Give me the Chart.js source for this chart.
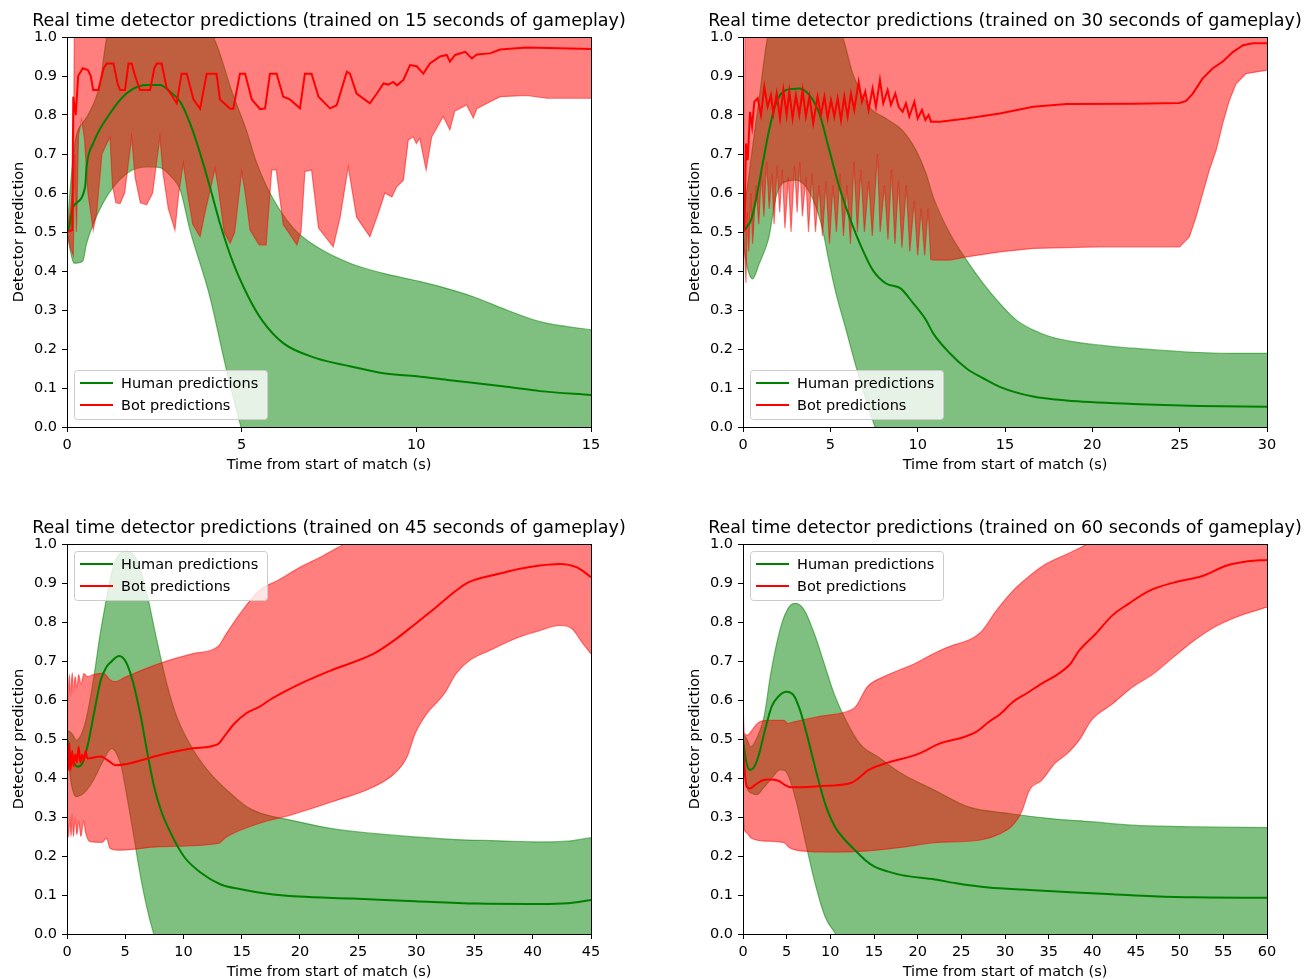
<!DOCTYPE html>
<html><head><meta charset="utf-8">
<script src="https://cdn.jsdelivr.net/npm/chart.js@4.4.1/dist/chart.umd.min.js"></script>
<style>
html,body{margin:0;padding:0;background:#fff;width:1304px;height:979px;overflow:hidden}
canvas{position:absolute;left:0;top:0}
</style></head><body>
<canvas id="c1" width="1304" height="979"></canvas>
<canvas id="c2" width="1304" height="979"></canvas>
<canvas id="c3" width="1304" height="979"></canvas>
<canvas id="c4" width="1304" height="979"></canvas>
<script>
// ---------- DATA : [time (s), detector prediction] ----------
const yTicks = [0,0.1,0.2,0.3,0.4,0.5,0.6,0.7,0.8,0.9,1.0];
const legendLabels = ['Human predictions','Bot predictions'];
const titles = [
 'Real time detector predictions (trained on 15 seconds of gameplay)',
 'Real time detector predictions (trained on 30 seconds of gameplay)',
 'Real time detector predictions (trained on 45 seconds of gameplay)',
 'Real time detector predictions (trained on 60 seconds of gameplay)'];
const xMaxes = [15,30,45,60];

// Panel 1 (15 s)
const p1HumanMean = [[0,0.50],[0.04,0.505],[0.18,0.565],[0.52,0.616],[0.56,0.667],[0.75,0.727],[1.23,0.804],[1.71,0.856],[2.28,0.877],[2.66,0.877],[2.95,0.86],[3.24,0.834],[3.52,0.779],[3.81,0.702],[4.09,0.616],[4.38,0.522],[4.76,0.42],[5.19,0.334],[5.58,0.274],[6.19,0.215],[7.15,0.176],[8.1,0.156],[9.06,0.138],[10.01,0.13],[10.96,0.12],[12.59,0.103],[13.54,0.092],[15,0.082]];
const p1HumanUpper = [[0,0.5],[0.1,0.62],[0.25,0.74],[0.45,0.78],[0.6,0.8],[0.94,0.88],[1.14,1.0],[1.6,1.08],[2.5,1.1],[3.4,1.07],[4.19,1.0],[4.76,0.85],[5.14,0.76],[5.4,0.685],[5.81,0.6],[6.48,0.51],[7.15,0.462],[8.1,0.42],[9.06,0.394],[10.01,0.375],[10.68,0.36],[11.63,0.334],[12.59,0.30],[13.54,0.27],[15,0.249]];
const p1HumanLower = [[0,0.5],[0.1,0.45],[0.2,0.42],[0.45,0.425],[0.56,0.47],[1.03,0.574],[1.71,0.65],[2.28,0.667],[2.66,0.665],[3.0,0.64],[3.24,0.608],[3.52,0.505],[4.09,0.334],[4.52,0.164],[4.95,0.01],[5.5,-0.15],[7,-0.12],[10,-0.1],[15,-0.09]];
const p1BotMean = [[0,0.5],[0.15,0.505],[0.18,0.847],[0.25,0.80],[0.32,0.9],[0.45,0.92],[0.6,0.915],[0.68,0.9],[0.75,0.864],[0.9,0.864],[1.05,0.92],[1.14,0.932],[1.33,0.932],[1.45,0.88],[1.52,0.864],[1.66,0.864],[1.76,0.932],[1.85,0.932],[1.95,0.9],[2.09,0.864],[2.38,0.864],[2.5,0.92],[2.57,0.932],[2.71,0.932],[2.85,0.87],[3.0,0.85],[3.14,0.83],[3.28,0.906],[3.43,0.906],[3.62,0.84],[3.81,0.816],[4.0,0.906],[4.28,0.906],[4.38,0.84],[4.67,0.816],[4.76,0.816],[4.95,0.906],[5.1,0.906],[5.29,0.84],[5.53,0.815],[5.67,0.817],[5.81,0.906],[6.0,0.906],[6.19,0.847],[6.38,0.84],[6.67,0.817],[6.81,0.906],[7.0,0.906],[7.2,0.847],[7.53,0.817],[7.72,0.825],[8.01,0.911],[8.1,0.906],[8.29,0.855],[8.67,0.83],[8.87,0.855],[9.06,0.881],[9.2,0.878],[9.34,0.885],[9.45,0.876],[9.63,0.89],[9.82,0.928],[10.01,0.925],[10.2,0.906],[10.39,0.932],[10.68,0.95],[10.87,0.954],[10.96,0.937],[11.11,0.954],[11.4,0.962],[11.59,0.945],[11.73,0.955],[12.11,0.958],[12.4,0.968],[13.16,0.973],[15,0.969]];
const p1BotUpper = [[0,0.5],[0.1,0.56],[0.18,0.62],[0.22,1.15],[5,1.2],[10,1.15],[15,1.1]];
const p1BotLower = [[0,0.5],[0.1,0.46],[0.18,0.44],[0.22,0.7],[0.27,0.5],[0.33,0.75],[0.42,0.787],[0.5,0.74],[0.6,0.6],[0.75,0.505],[0.85,0.55],[1.0,0.7],[1.23,0.744],[1.3,0.62],[1.4,0.575],[1.52,0.573],[1.65,0.6],[1.85,0.744],[1.95,0.64],[2.1,0.575],[2.28,0.57],[2.45,0.6],[2.66,0.744],[2.75,0.65],[2.9,0.56],[3.09,0.505],[3.2,0.6],[3.33,0.676],[3.45,0.6],[3.6,0.52],[3.81,0.488],[3.95,0.55],[4.24,0.663],[4.35,0.6],[4.5,0.5],[4.67,0.471],[4.8,0.5],[5.0,0.655],[5.1,0.6],[5.24,0.505],[5.5,0.467],[5.7,0.467],[5.86,0.659],[5.99,0.659],[6.19,0.519],[6.58,0.467],[6.7,0.5],[6.81,0.655],[7.0,0.659],[7.2,0.51],[7.62,0.462],[7.82,0.538],[8.05,0.667],[8.29,0.538],[8.67,0.488],[8.91,0.548],[9.1,0.6],[9.3,0.59],[9.44,0.616],[9.63,0.633],[9.77,0.736],[9.91,0.744],[10.0,0.727],[10.1,0.74],[10.28,0.659],[10.44,0.744],[10.77,0.796],[10.96,0.762],[11.1,0.81],[11.44,0.826],[11.63,0.792],[11.73,0.816],[12.11,0.834],[12.4,0.847],[13.16,0.85],[13.73,0.843],[15,0.843]];

// Panel 2 (30 s)
const p2HumanMean = [[0,0.5],[0.08,0.505],[0.46,0.531],[0.74,0.582],[1.13,0.676],[1.5,0.762],[1.89,0.83],[2.46,0.864],[3.22,0.868],[3.8,0.851],[4.37,0.804],[4.94,0.71],[5.51,0.616],[6.09,0.539],[6.85,0.454],[7.42,0.403],[8.19,0.368],[9.0,0.356],[9.75,0.317],[10.48,0.274],[10.89,0.24],[11.84,0.189],[12.8,0.15],[13.75,0.125],[14.7,0.103],[16.61,0.078],[18.52,0.068],[22.33,0.059],[26.14,0.054],[30,0.052]];
const p2HumanUpper = [[0,0.5],[0.15,0.58],[0.33,0.642],[0.55,0.719],[0.94,0.847],[1.41,1.0],[2.5,1.1],[3.5,1.1],[4.8,1.05],[5.7,1.0],[6.28,0.907],[7.23,0.821],[8.19,0.791],[9.14,0.76],[9.9,0.71],[10.48,0.65],[10.89,0.59],[11.84,0.497],[12.8,0.428],[13.75,0.368],[14.7,0.317],[15.66,0.274],[16.61,0.249],[17.56,0.232],[19.47,0.215],[22.33,0.202],[25.2,0.193],[28.06,0.189],[30,0.189]];
const p2HumanLower = [[0,0.5],[0.1,0.45],[0.3,0.4],[0.55,0.38],[0.94,0.42],[1.32,0.462],[1.5,0.49],[1.89,0.59],[2.27,0.625],[3.03,0.633],[3.6,0.616],[4.18,0.564],[4.56,0.505],[4.94,0.42],[5.32,0.343],[5.9,0.249],[6.47,0.155],[7.04,0.07],[7.42,0.018],[8,-0.05],[12,-0.15],[20,-0.07],[30,-0.09]];
const p2BotMean = [[0,0.5],[0.08,0.505],[0.17,0.727],[0.27,0.684],[0.4,0.808],[0.52,0.77],[0.65,0.834],[0.84,0.843],[1.03,0.8],[1.22,0.872],[1.41,0.821],[1.6,0.851],[1.74,0.804],[1.93,0.855],[2.12,0.791],[2.31,0.864],[2.5,0.8],[2.65,0.86],[2.84,0.791],[3.03,0.851],[3.22,0.8],[3.41,0.864],[3.6,0.796],[3.8,0.847],[4.02,0.779],[4.27,0.847],[4.46,0.8],[4.66,0.847],[4.85,0.791],[5.04,0.838],[5.23,0.796],[5.42,0.843],[5.61,0.787],[5.8,0.847],[5.99,0.796],[6.18,0.855],[6.37,0.813],[6.62,0.885],[6.81,0.834],[7.0,0.86],[7.19,0.813],[7.42,0.868],[7.61,0.821],[7.84,0.89],[8.03,0.83],[8.28,0.864],[8.47,0.826],[8.72,0.855],[8.91,0.821],[9.14,0.808],[9.33,0.83],[9.52,0.796],[9.81,0.834],[10.0,0.791],[10.25,0.813],[10.44,0.787],[10.63,0.8],[10.76,0.783],[11.27,0.783],[12.8,0.791],[14.7,0.804],[16.61,0.821],[18.52,0.828],[22.33,0.829],[25.0,0.831],[25.37,0.836],[25.75,0.855],[26.32,0.894],[26.9,0.92],[27.47,0.937],[28.06,0.962],[28.63,0.979],[29.2,0.984],[30,0.984]];
const p2BotUpper = [[0,0.53],[0.08,0.7],[0.12,1.1],[10,1.2],[20,1.2],[30,1.05]];
const p2BotLower = [[0,0.47],[0.1,0.44],[0.17,0.37],[0.25,0.55],[0.33,0.45],[0.45,0.6],[0.55,0.47],[0.75,0.62],[0.9,0.52],[1.05,0.65],[1.2,0.54],[1.35,0.68],[1.5,0.56],[1.65,0.65],[1.78,0.52],[1.95,0.67],[2.1,0.55],[2.25,0.66],[2.4,0.51],[2.6,0.64],[2.75,0.5],[2.95,0.67],[3.1,0.55],[3.25,0.68],[3.4,0.54],[3.6,0.64],[3.75,0.5],[3.95,0.65],[4.15,0.5],[4.35,0.62],[4.55,0.49],[4.75,0.63],[4.95,0.47],[5.15,0.62],[5.35,0.5],[5.55,0.65],[5.75,0.49],[5.95,0.62],[6.15,0.47],[6.35,0.68],[6.55,0.5],[6.75,0.66],[6.95,0.5],[7.2,0.63],[7.4,0.49],[7.7,0.7],[7.85,0.5],[8.1,0.62],[8.3,0.48],[8.5,0.66],[8.7,0.47],[8.9,0.63],[9.1,0.46],[9.35,0.62],[9.55,0.45],[9.8,0.58],[10.0,0.44],[10.2,0.56],[10.4,0.44],[10.6,0.56],[10.75,0.43],[10.89,0.428],[11.84,0.428],[12.8,0.436],[14.7,0.449],[16.61,0.458],[20.43,0.462],[25,0.462],[25.56,0.488],[25.94,0.539],[26.32,0.599],[26.7,0.659],[27.09,0.71],[27.47,0.779],[27.85,0.838],[28.23,0.88],[28.8,0.906],[30,0.915]];

// Panel 3 (45 s)
const p3HumanMean = [[0,0.5],[0.04,0.497],[0.3,0.455],[0.6,0.438],[0.89,0.429],[1.32,0.438],[1.75,0.48],[2.32,0.566],[2.9,0.651],[3.4,0.685],[3.76,0.697],[4.47,0.713],[5.05,0.698],[5.62,0.651],[6.34,0.557],[6.91,0.463],[7.48,0.378],[8.06,0.318],[8.92,0.258],[10.06,0.198],[11.5,0.157],[13.21,0.127],[14.93,0.115],[17.07,0.104],[19.92,0.096],[24.5,0.091],[29.9,0.084],[35.2,0.078],[40.6,0.077],[43,0.079],[45,0.087]];
const p3HumanUpper = [[0,0.523],[0.4,0.515],[0.83,0.497],[1.2,0.51],[1.69,0.557],[2.35,0.668],[2.8,0.76],[3.26,0.839],[3.83,0.925],[4.55,0.976],[5.13,0.981],[5.99,0.959],[6.85,0.874],[7.71,0.754],[8.57,0.642],[9.43,0.557],[10.86,0.471],[12.3,0.412],[13.73,0.369],[15.45,0.326],[16.6,0.31],[19.2,0.292],[22.8,0.27],[26.3,0.258],[29.9,0.249],[33.4,0.242],[37,0.239],[40.6,0.236],[43,0.238],[45,0.247]];
const p3HumanLower = [[0,0.48],[0.4,0.38],[0.83,0.352],[1.4,0.36],[2.26,0.394],[3.12,0.445],[3.83,0.475],[4.1,0.47],[4.67,0.428],[5.1,0.36],[5.7,0.257],[6.27,0.155],[6.85,0.069],[7.42,0.003],[8,-0.05],[15,-0.08],[30,-0.08],[45,-0.07]];
const p3BotMean = [[0,0.497],[0.12,0.42],[0.2,0.49],[0.3,0.42],[0.45,0.47],[0.55,0.43],[0.7,0.46],[0.85,0.44],[1.0,0.48],[1.15,0.44],[1.3,0.46],[1.45,0.445],[1.6,0.47],[1.75,0.45],[2.9,0.455],[3.47,0.446],[4.18,0.433],[5.13,0.436],[7.99,0.459],[10.83,0.476],[12.97,0.487],[13.4,0.502],[14.26,0.536],[15.4,0.566],[16.55,0.583],[17.4,0.6],[19.92,0.64],[22.77,0.677],[26.3,0.718],[28.1,0.753],[29.9,0.795],[31.7,0.838],[33.4,0.88],[34.5,0.902],[37,0.923],[38.8,0.936],[40.6,0.945],[42.3,0.949],[43.8,0.94],[45,0.915]];
const p3BotUpper = [[0,0.5],[0.04,0.669],[0.12,0.6],[0.2,0.665],[0.3,0.61],[0.45,0.67],[0.55,0.62],[0.7,0.66],[0.85,0.63],[1.0,0.665],[1.2,0.64],[1.45,0.668],[1.75,0.66],[2.26,0.665],[3.12,0.669],[3.69,0.652],[4.1,0.647],[5.1,0.66],[7.97,0.694],[10.83,0.719],[12.97,0.737],[13.7,0.771],[15.1,0.831],[16.55,0.882],[18,0.905],[20,0.94],[22,0.97],[23.8,1.0],[30,1.1],[40,1.12],[45,1.11]];
const p3BotLower = [[0,0.45],[0.04,0.3],[0.12,0.249],[0.25,0.3],[0.35,0.25],[0.45,0.309],[0.55,0.25],[0.7,0.3],[0.85,0.255],[1.0,0.29],[1.2,0.25],[1.42,0.29],[1.6,0.26],[1.97,0.237],[3.0,0.235],[3.4,0.245],[3.69,0.22],[4.55,0.215],[7.97,0.224],[12.97,0.232],[13.7,0.249],[16.55,0.284],[19.2,0.305],[22.77,0.339],[26.3,0.377],[28.1,0.411],[29.2,0.454],[29.9,0.514],[30.9,0.565],[32.4,0.616],[33.4,0.667],[34.5,0.70],[36.3,0.727],[38.8,0.761],[40.6,0.778],[42.3,0.791],[43.4,0.782],[44.1,0.753],[45,0.718]];

// Panel 4 (60 s)
const p4HumanMean = [[0,0.497],[0.42,0.438],[0.8,0.421],[1.18,0.425],[1.76,0.455],[2.52,0.523],[3.28,0.583],[4.05,0.609],[5.0,0.621],[5.76,0.613],[6.53,0.574],[7.48,0.497],[8.43,0.412],[9.39,0.335],[10.53,0.275],[11.68,0.241],[12.82,0.215],[13.97,0.19],[15.11,0.172],[16.64,0.16],[18.17,0.151],[21.99,0.14],[24.4,0.13],[28.1,0.119],[32.8,0.113],[37.5,0.107],[42.3,0.102],[47,0.097],[51.7,0.094],[60,0.093]];
const p4HumanUpper = [[0,0.514],[0.5,0.497],[0.88,0.48],[1.65,0.506],[2.41,0.557],[3.18,0.668],[4.33,0.788],[5.28,0.839],[6.05,0.848],[7.0,0.831],[8.15,0.771],[9.29,0.694],[10.43,0.616],[11.96,0.54],[13.49,0.485],[15.4,0.455],[18.1,0.412],[21.9,0.369],[25.8,0.326],[30.5,0.309],[35.2,0.296],[39.9,0.288],[44.6,0.279],[51.7,0.275],[60,0.273]];
const p4HumanLower = [[0,0.48],[0.42,0.378],[0.99,0.361],[1.57,0.357],[2.33,0.374],[3.28,0.399],[4.24,0.421],[4.81,0.419],[5.38,0.395],[6.15,0.335],[7.1,0.241],[8.24,0.131],[9.39,0.045],[10.53,0.003],[12,-0.05],[30,-0.08],[60,-0.09]];
const p4BotMean = [[0,0.497],[0.15,0.43],[0.42,0.378],[0.8,0.373],[1.37,0.382],[2.14,0.393],[2.9,0.396],[4.05,0.393],[4.81,0.382],[5.58,0.376],[8.62,0.379],[12.44,0.388],[13.2,0.399],[14.35,0.42],[16.26,0.437],[20.08,0.462],[22.5,0.488],[25.3,0.505],[26.7,0.518],[28.1,0.543],[29.5,0.565],[30.9,0.595],[32.4,0.616],[34.2,0.642],[36.1,0.667],[37.5,0.693],[38.5,0.727],[40.4,0.77],[42.3,0.817],[44.1,0.846],[46.5,0.88],[49.3,0.901],[52.6,0.918],[55.4,0.945],[57.8,0.956],[60,0.959]];
const p4BotUpper = [[0,0.592],[0.15,0.515],[0.5,0.51],[0.88,0.518],[1.64,0.54],[2.79,0.548],[4.7,0.548],[5.1,0.54],[5.85,0.544],[8.52,0.557],[12.34,0.574],[12.9,0.583],[14.25,0.634],[16.16,0.66],[19.64,0.693],[21.9,0.72],[23.4,0.735],[27.2,0.773],[29,0.829],[30.9,0.88],[32.8,0.918],[34.7,0.949],[37.1,0.974],[39.4,1.0],[45,1.08],[60,1.07]];
const p4BotLower = [[0,0.33],[0.15,0.268],[0.4,0.26],[0.88,0.247],[2.79,0.238],[4.7,0.234],[5.28,0.222],[6.62,0.213],[10.43,0.21],[14.25,0.213],[18.07,0.222],[21.9,0.234],[27.2,0.241],[29.5,0.258],[30.9,0.279],[31.9,0.313],[32.8,0.369],[34.2,0.394],[35.7,0.437],[37.1,0.462],[38.5,0.497],[39.9,0.548],[42.3,0.59],[44.6,0.633],[47,0.667],[49.3,0.71],[51.7,0.753],[54,0.787],[56.4,0.812],[60,0.838]];

// ---------- DRAWING ----------
const FONT = "'DejaVu Sans', sans-serif";
const GREEN = '#008000', RED = '#ff0000';
const GREEN_A = 'rgba(0,128,0,0.5)', RED_A = 'rgba(255,0,0,0.5)';
const toXY = a => a.map(p => ({x:p[0], y:p[1]}));

const panels = [
 {id:'c1', area:{l:67,t:37,r:591,b:427}, legendTop:false, smoothBot:false, hm:p1HumanMean, hu:p1HumanUpper, hl:p1HumanLower, bm:p1BotMean, bu:p1BotUpper, bl:p1BotLower},
 {id:'c2', area:{l:743,t:37,r:1267,b:427}, legendTop:false, smoothBot:false, hm:p2HumanMean, hu:p2HumanUpper, hl:p2HumanLower, bm:p2BotMean, bu:p2BotUpper, bl:p2BotLower},
 {id:'c3', area:{l:67,t:544,r:591,b:934}, legendTop:true, smoothBot:true, hm:p3HumanMean, hu:p3HumanUpper, hl:p3HumanLower, bm:p3BotMean, bu:p3BotUpper, bl:p3BotLower},
 {id:'c4', area:{l:743,t:544,r:1267,b:934}, legendTop:true, smoothBot:true, hm:p4HumanMean, hu:p4HumanUpper, hl:p4HumanLower, bm:p4BotMean, bu:p4BotUpper, bl:p4BotLower}
];

const decor = {
  id:'decor',
  afterDraw(chart, args, o){
    const ctx = chart.ctx, a = chart.chartArea;
    ctx.save();
    ctx.strokeStyle = '#000'; ctx.lineWidth = 1;
    ctx.strokeRect(a.left+0.5, a.top+0.5, a.right-a.left, a.bottom-a.top);
    ctx.fillStyle = '#000';
    ctx.textAlign = 'center'; ctx.textBaseline = 'alphabetic';
    ctx.font = '17.5px ' + FONT;
    const cx = (a.left + a.right)/2;
    ctx.fillText(o.title, cx, a.top - 11);
    ctx.font = '14.5px ' + FONT;
    ctx.fillText('Time from start of match (s)', cx, a.bottom + 42);
    ctx.save();
    ctx.translate(a.left - 44.5, (a.top + a.bottom)/2);
    ctx.rotate(-Math.PI/2);
    ctx.fillText('Detector prediction', 0, 0);
    ctx.restore();
    const bw = 193, bh = 49, bx = a.left + 7;
    const by = o.legendTop ? a.top + 7 : a.bottom - 8 - bh;
    ctx.beginPath();
    if (ctx.roundRect) ctx.roundRect(bx+0.5, by+0.5, bw, bh, 3); else ctx.rect(bx+0.5, by+0.5, bw, bh);
    ctx.fillStyle = 'rgba(255,255,255,0.8)'; ctx.fill();
    ctx.strokeStyle = '#cccccc'; ctx.lineWidth = 1; ctx.stroke();
    const rows = [[legendLabels[0], GREEN, by + 13], [legendLabels[1], RED, by + 35]];
    ctx.textAlign = 'left'; ctx.textBaseline = 'middle';
    rows.forEach(([txt, col, y]) => {
      ctx.beginPath(); ctx.strokeStyle = col; ctx.lineWidth = 2;
      ctx.moveTo(bx + 6, y); ctx.lineTo(bx + 39, y); ctx.stroke();
      ctx.fillStyle = '#000';
      ctx.fillText(txt, bx + 47, y + 1);
    });
    ctx.restore();
  }
};

panels.forEach((p, i) => {
  const a = p.area;
  const YW = 60, XH = 30;
  const tickFont = {family: FONT, size: 14.5};
  const sm = 'monotone', bm = p.smoothBot ? 'monotone' : 'default';
  new Chart(document.getElementById(p.id), {
    type: 'line',
    data: { datasets: [
      {data: toXY(p.hl), borderColor: GREEN_A, borderWidth: 1.2, fill: false, order: 5, cubicInterpolationMode: sm},
      {data: toXY(p.hu), borderColor: GREEN_A, borderWidth: 1.2, backgroundColor: GREEN_A, fill: '-1', order: 4, cubicInterpolationMode: sm},
      {data: toXY(p.bl), borderColor: RED_A, borderWidth: 1.2, fill: false, order: 3, cubicInterpolationMode: bm},
      {data: toXY(p.bu), borderColor: RED_A, borderWidth: 1.2, backgroundColor: RED_A, fill: '-1', order: 2, cubicInterpolationMode: bm},
      {label: legendLabels[0], data: toXY(p.hm), borderColor: GREEN, borderWidth: 2, fill: false, order: 1, cubicInterpolationMode: sm},
      {label: legendLabels[1], data: toXY(p.bm), borderColor: RED, borderWidth: 2, fill: false, order: 0, cubicInterpolationMode: bm}
    ]},
    options: {
      responsive: false, animation: false, devicePixelRatio: 1, events: [],
      layout: {padding: {left: a.l - YW, top: a.t, right: 1304 - a.r, bottom: 979 - a.b - XH}},
      elements: {point: {radius: 0}, line: {tension: 0}},
      plugins: {legend: {display: false}, tooltip: {enabled: false}, title: {display: false},
                decor: {title: titles[i], legendTop: p.legendTop}},
      scales: {
        x: {type: 'linear', min: 0, max: xMaxes[i],
            afterFit: s => { s.height = XH; },
            ticks: {stepSize: 5, font: tickFont, color: '#000', padding: 5, maxRotation: 0, autoSkip: false},
            grid: {drawOnChartArea: false, drawTicks: true, tickLength: 5, color: '#000'},
            border: {display: false}},
        y: {type: 'linear', min: 0, max: 1,
            afterFit: s => { s.width = YW; },
            afterBuildTicks: s => { s.ticks = yTicks.map(v => ({value: v})); },
            ticks: {font: tickFont, color: '#000', padding: 5, callback: v => Number(v).toFixed(1)},
            grid: {drawOnChartArea: false, drawTicks: true, tickLength: 5, color: '#000'},
            border: {display: false}}
      }
    },
    plugins: [decor]
  });
});
</script>
</body></html>
